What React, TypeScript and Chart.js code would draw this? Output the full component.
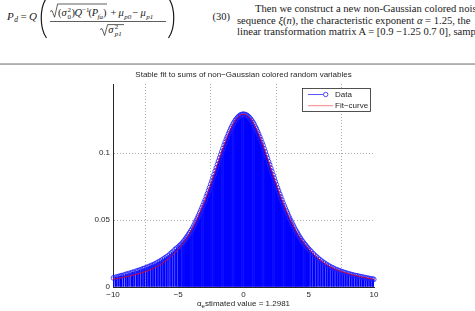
import React, { useEffect, useRef } from "react";
import { Chart, registerables } from "chart.js";

Chart.register(...registerables);

// Sample positions and their estimated densities (stem plot), left tail / core / right tail
const LEFT_TAIL_X = [-9.96, -9.81, -9.7, -9.55, -9.42, -9.33, -9.18, -9.02, -8.9, -8.77, -8.61, -8.5, -8.38, -8.22, -8.09, -7.97, -7.83, -7.7, -7.58, -7.43, -7.31, -7.18, -7.04, -6.93, -6.8, -6.66, -6.55, -6.41, -6.28, -6.16, -6.03, -5.9, -5.78, -5.63, -5.51, -5.38, -5.24, -5.12];
const LEFT_TAIL_Y = [0.0068, 0.0072, 0.0074, 0.0079, 0.0082, 0.0085, 0.0088, 0.0094, 0.0096, 0.0101, 0.0104, 0.0109, 0.0111, 0.0118, 0.0121, 0.0126, 0.013, 0.0136, 0.0139, 0.0145, 0.0149, 0.0155, 0.0161, 0.0165, 0.0171, 0.0178, 0.0185, 0.0192, 0.0199, 0.0207, 0.0216, 0.0224, 0.0232, 0.0245, 0.0255, 0.0266, 0.028, 0.029];

const CORE_X = [
  -4.99, -4.9, -4.82, -4.71, -4.63, -4.55, -4.46, -4.37, -4.29, -4.2, -4.12, -4.03, -3.95, -3.86, -3.78, -3.69, -3.61, -3.52, -3.44, -3.35,
  -3.27, -3.18, -3.1, -3.01, -2.93, -2.84, -2.76, -2.67, -2.59, -2.5, -2.42, -2.33, -2.25, -2.16, -2.08, -1.99, -1.91, -1.82, -1.74, -1.65,
  -1.57, -1.48, -1.4, -1.31, -1.23, -1.14, -1.06, -0.97, -0.89, -0.8, -0.72, -0.63, -0.55, -0.46, -0.38, -0.29, -0.21, -0.12, -0.04,
  0.05, 0.13, 0.22, 0.3, 0.39, 0.47, 0.56, 0.64, 0.73, 0.81, 0.9, 0.98, 1.07, 1.15, 1.24, 1.32, 1.41, 1.49, 1.58, 1.66,
  1.75, 1.83, 1.92, 2.0, 2.09, 2.17, 2.26, 2.34, 2.43, 2.51, 2.6, 2.68, 2.77, 2.85, 2.94, 3.02, 3.11, 3.19, 3.28, 3.36,
  3.45, 3.53, 3.62, 3.7, 3.79, 3.87, 3.96, 4.04, 4.13, 4.21, 4.3, 4.38, 4.47, 4.55, 4.64, 4.72, 4.81, 4.89, 4.98,
];
const CORE_Y = [
  0.0298, 0.0307, 0.0315, 0.0325, 0.0334, 0.0344, 0.0356, 0.0368, 0.0379, 0.0392, 0.0404, 0.0418, 0.043, 0.0446, 0.0462, 0.048, 0.0497, 0.0515, 0.0532, 0.0552,
  0.057, 0.059, 0.0609, 0.0631, 0.065, 0.0675, 0.0696, 0.072, 0.0742, 0.0767, 0.079, 0.0816, 0.0839, 0.0865, 0.0889, 0.0915, 0.0939, 0.0964, 0.0987, 0.1012,
  0.1034, 0.1059, 0.108, 0.1103, 0.1122, 0.1143, 0.1162, 0.1181, 0.1197, 0.1214, 0.1228, 0.1242, 0.1253, 0.1263, 0.1271, 0.1279, 0.1284, 0.1287, 0.1289,
  0.1289, 0.1286, 0.1283, 0.1278, 0.127, 0.1262, 0.1252, 0.124, 0.1227, 0.1213, 0.1195, 0.118, 0.116, 0.1141, 0.112, 0.11, 0.1077, 0.1057, 0.1032, 0.1009,
  0.0984, 0.0961, 0.0935, 0.0912, 0.0886, 0.0862, 0.0836, 0.0813, 0.0787, 0.0764, 0.0739, 0.0717, 0.0693, 0.0672, 0.0649, 0.0628, 0.0607, 0.0588, 0.0568, 0.055,
  0.053, 0.0513, 0.0495, 0.0478, 0.0461, 0.0446, 0.0428, 0.0415, 0.0401, 0.0386, 0.0372, 0.036, 0.0346, 0.0336, 0.0324, 0.0315, 0.0304, 0.0295, 0.0284,
];

const RIGHT_TAIL_X = [5.09, 5.21, 5.34, 5.46, 5.59, 5.71, 5.85, 5.97, 6.1, 6.23, 6.37, 6.49, 6.62, 6.76, 6.88, 7.01, 7.15, 7.27, 7.4, 7.54, 7.66, 7.79, 7.93, 8.05, 8.19, 8.32, 8.44, 8.58, 8.7, 8.83, 8.97, 9.1, 9.22, 9.36, 9.49, 9.62, 9.75, 9.88, 9.98];
const RIGHT_TAIL_Y = [0.0274, 0.0261, 0.0248, 0.0236, 0.0225, 0.0215, 0.0204, 0.0194, 0.0185, 0.0177, 0.0168, 0.016, 0.0153, 0.0146, 0.014, 0.0134, 0.0128, 0.0124, 0.0119, 0.0114, 0.011, 0.0106, 0.0102, 0.0098, 0.0095, 0.0091, 0.0088, 0.0085, 0.0083, 0.008, 0.0077, 0.0074, 0.0072, 0.0069, 0.0066, 0.0064, 0.0061, 0.0059, 0.0057];

// Fitted stable density
const FIT_X = [-10, -9.5, -9, -8.5, -8, -7.5, -7, -6.5, -6, -5.5, -5, -4.75, -4.5, -4.25, -4, -3.75, -3.5, -3.25, -3, -2.75, -2.5, -2.25, -2, -1.75, -1.5, -1.25, -1, -0.75, -0.5, -0.25, 0, 0.25, 0.5, 0.75, 1, 1.25, 1.5, 1.75, 2, 2.25, 2.5, 2.75, 3, 3.25, 3.5, 3.75, 4, 4.25, 4.5, 4.75, 5, 5.5, 6, 6.5, 7, 7.5, 8, 8.5, 9, 9.5, 10];
const FIT_Y = [0.0057, 0.0066, 0.0076, 0.0087, 0.01, 0.0115, 0.0134, 0.0159, 0.0192, 0.0232, 0.0282, 0.0311, 0.0342, 0.038, 0.0421, 0.0468, 0.0519, 0.0574, 0.0633, 0.0698, 0.0767, 0.0839, 0.0912, 0.0984, 0.1054, 0.1118, 0.1176, 0.1224, 0.126, 0.1282, 0.1289, 0.1282, 0.126, 0.1224, 0.1176, 0.1118, 0.1054, 0.0984, 0.0912, 0.0839, 0.0767, 0.0698, 0.0633, 0.0574, 0.0519, 0.0468, 0.0421, 0.038, 0.0342, 0.0311, 0.0282, 0.0232, 0.0192, 0.0159, 0.0134, 0.0115, 0.01, 0.0087, 0.0076, 0.0066, 0.0057];

const X_TICKS = [-10, -5, 0, 5, 10];
const X_TICK_LABELS = ["\u221210", "\u22125", "0", "5", "10"];
const Y_TICKS = [0, 0.05, 0.1];
const Y_TICK_LABELS = ["0", "0.05", "0.1"];

const TITLE = "Stable fit to sums of non\u2212Gaussian colored random variables";
const ALPHA_ESTIMATE = "1.2981";
const LEGEND_LABELS = ["Data", "Fit\u2212curve"];

const INK = "#262626";
const SANS = "'Liberation Sans', Arial, Helvetica, sans-serif";
const STEM_BLUE = "rgb(0,0,255)";
const MARKER_BLUE = "rgb(30,30,255)";
const FIT_RED = "rgb(255,0,0)";

const STEM_X = [...LEFT_TAIL_X, ...CORE_X, ...RIGHT_TAIL_X];
const STEM_Y = [...LEFT_TAIL_Y, ...CORE_Y, ...RIGHT_TAIL_Y];

// Title, x-axis caption with subscript, and the boxed legend
const annotations = {
  id: "annotations",
  afterDraw(chart: any) {
    const { ctx, chartArea: a } = chart;
    const cx = (a.left + a.right) / 2;
    ctx.save();
    ctx.fillStyle = INK;
    ctx.font = `8px ${SANS}`;
    ctx.textAlign = "center";
    ctx.textBaseline = "middle";
    ctx.fillText(TITLE, cx, a.top - 9);

    // α with subscript "e", then the rest of the caption
    const head = "\u03b1";
    const sub = "e";
    const rest = "stimated value = " + ALPHA_ESTIMATE;
    ctx.font = `8px ${SANS}`;
    const w1 = ctx.measureText(head).width;
    const w3 = ctx.measureText(rest).width;
    ctx.font = `6px ${SANS}`;
    const w2 = ctx.measureText(sub).width;
    let x = cx - (w1 + w2 + w3) / 2;
    const base = a.bottom + 19;
    ctx.textAlign = "left";
    ctx.textBaseline = "alphabetic";
    ctx.font = `8px ${SANS}`;
    ctx.fillText(head, x, base);
    x += w1;
    ctx.font = `6px ${SANS}`;
    ctx.fillText(sub, x, base + 2);
    x += w2;
    ctx.font = `8px ${SANS}`;
    ctx.fillText(rest, x, base);

    // legend box
    const bx = a.right - 71.5;
    const by = a.top + 4.5;
    const bw = 68;
    const bh = 23;
    ctx.fillStyle = "#fff";
    ctx.fillRect(bx, by, bw, bh);
    ctx.strokeStyle = INK;
    ctx.lineWidth = 0.8;
    ctx.strokeRect(bx, by, bw, bh);

    const r1 = by + 6;
    const r2 = by + 17.2;
    ctx.strokeStyle = "rgba(60,60,255,0.85)";
    ctx.lineWidth = 1;
    ctx.beginPath();
    ctx.moveTo(bx + 5.5, r1);
    ctx.lineTo(bx + 21, r1);
    ctx.stroke();
    ctx.strokeStyle = MARKER_BLUE;
    ctx.lineWidth = 0.8;
    ctx.beginPath();
    ctx.arc(bx + 23.2, r1, 2.2, 0, Math.PI * 2);
    ctx.stroke();

    ctx.strokeStyle = "rgba(255,90,90,0.75)";
    ctx.lineWidth = 1;
    ctx.beginPath();
    ctx.moveTo(bx + 5.5, r2);
    ctx.lineTo(bx + 30.5, r2);
    ctx.stroke();

    ctx.fillStyle = INK;
    ctx.font = `8px ${SANS}`;
    ctx.textBaseline = "middle";
    ctx.fillText(LEGEND_LABELS[0], bx + 32.5, r1 + 0.5);
    ctx.fillText(LEGEND_LABELS[1], bx + 32.5, r2 + 0.5);
    ctx.restore();
  },
};

const gridStyle = { color: "rgba(0,0,0,0.32)", lineWidth: 1, drawTicks: false };
const borderStyle = { display: true, color: INK, width: 1, dash: [1, 2] };
const tickFont = { family: SANS, size: 8 };

export default function App() {
  const canvasRef = useRef<HTMLCanvasElement>(null);

  useEffect(() => {
    const canvas = canvasRef.current;
    if (!canvas) return;
    const chart = new Chart(canvas, {
      type: "scatter",
      data: {
        datasets: [
          {
            type: "line",
            label: LEGEND_LABELS[1],
            data: FIT_X.map((x, i) => ({ x, y: FIT_Y[i] })),
            borderColor: FIT_RED,
            borderWidth: 0.75,
            pointRadius: 0,
            cubicInterpolationMode: "monotone",
            fill: false,
            order: 1,
          } as any,
          {
            type: "scatter",
            label: LEGEND_LABELS[0],
            data: STEM_X.map((x, i) => ({ x, y: STEM_Y[i] })),
            pointStyle: "circle",
            pointRadius: 2.4,
            pointBorderWidth: 0.8,
            pointBorderColor: MARKER_BLUE,
            pointBackgroundColor: "rgba(0,0,0,0)",
            showLine: false,
            clip: false,
            order: 2,
          } as any,
          {
            type: "bar",
            label: "stems",
            data: STEM_X.map((x, i) => ({ x, y: STEM_Y[i] })),
            backgroundColor: STEM_BLUE,
            borderWidth: 0,
            barThickness: 1,
            grouped: false,
            order: 3,
          } as any,
        ],
      },
      options: {
        responsive: false,
        animation: false,
        events: [],
        layout: { padding: { top: 20, right: 101, left: 0, bottom: 0 } },
        plugins: {
          legend: { display: false },
          title: { display: false },
          tooltip: { enabled: false },
        },
        scales: {
          x: {
            type: "linear",
            min: -10,
            max: 10,
            offset: false,
            afterBuildTicks: (s: any) => {
              s.ticks = X_TICKS.map((value) => ({ value }));
            },
            afterFit: (s: any) => {
              s.height = 24;
            },
            ticks: {
              callback: (_v: any, i: number) => X_TICK_LABELS[i],
              font: tickFont,
              color: INK,
              padding: 3,
              maxRotation: 0,
              autoSkip: false,
            },
            grid: gridStyle,
            border: borderStyle,
          },
          y: {
            type: "linear",
            min: 0,
            max: 0.1515,
            afterBuildTicks: (s: any) => {
              s.ticks = Y_TICKS.map((value) => ({ value }));
            },
            afterFit: (s: any) => {
              s.width = 113;
            },
            ticks: {
              callback: (_v: any, i: number) => Y_TICK_LABELS[i],
              font: tickFont,
              color: INK,
              padding: 3,
            },
            grid: gridStyle,
            border: borderStyle,
          },
        },
      } as any,
      plugins: [annotations],
    });
    return () => chart.destroy();
  }, []);

  const serif = "'Liberation Serif', 'DejaVu Serif', serif";
  const ink = "#1a1a1a";
  const body = 10.6;

  return (
    <div
      style={{
        position: "fixed",
        left: 0,
        top: 0,
        width: 475,
        height: 311,
        overflow: "hidden",
        background: "#fff",
      }}
    >
      <svg
        width={475}
        height={66}
        style={{ position: "absolute", left: 0, top: 0 }}
        fontFamily={serif}
        fill={ink}
      >
        {/* equation (30) */}
        <text x={7} y={19.5} fontSize={11} fontStyle="italic">P</text>
        <text x={14.2} y={21.8} fontSize={7.5} fontStyle="italic">d</text>
        <text x={20.5} y={19.5} fontSize={11}>=</text>
        <text x={29} y={19.5} fontSize={11} fontStyle="italic">Q</text>
        <path d="M46.5,-2 C39.5,8 39.5,28 46.5,38" stroke={ink} strokeWidth={1.2} fill="none" />
        <path d="M168.5,-2 C175.5,8 175.5,28 168.5,38" stroke={ink} strokeWidth={1.2} fill="none" />

        <path d="M50,11.5 L52,10.6 L54.6,17.2 L57.6,4 L107,4" stroke={ink} strokeWidth={0.7} fill="none" />
        <text x={58} y={16} fontSize={10.5}>(</text>
        <text x={61.5} y={16} fontSize={10.5} fontStyle="italic">σ</text>
        <text x={67.5} y={11.5} fontSize={7}>2</text>
        <text x={67.5} y={18.8} fontSize={7}>0</text>
        <text x={71.5} y={16} fontSize={10.5}>)</text>
        <text x={74.5} y={16} fontSize={10.5} fontStyle="italic">Q</text>
        <text x={82} y={11.5} fontSize={7}>−1</text>
        <text x={88.5} y={16} fontSize={10.5}>(</text>
        <text x={91.8} y={16} fontSize={10.5} fontStyle="italic">P</text>
        <text x={97.6} y={18.8} fontSize={7} fontStyle="italic">fa</text>
        <text x={103} y={16} fontSize={10.5}>)</text>
        <text x={110.5} y={16} fontSize={10.5}>+</text>
        <text x={118.5} y={16} fontSize={10.5} fontStyle="italic">μ</text>
        <text x={124.3} y={18.8} fontSize={7} fontStyle="italic">p0</text>
        <text x={132.5} y={16} fontSize={10.5}>−</text>
        <text x={140.5} y={16} fontSize={10.5} fontStyle="italic">μ</text>
        <text x={146.3} y={18.8} fontSize={7} fontStyle="italic">p1</text>
        <path d="M50,21.5 H166" stroke={ink} strokeWidth={0.7} />

        <path d="M100,29.5 L102,28.6 L104.6,35.5 L107.6,24.6 L124,24.6" stroke={ink} strokeWidth={0.7} fill="none" />
        <text x={108.3} y={33} fontSize={10.5} fontStyle="italic">σ</text>
        <text x={114.8} y={28.8} fontSize={7}>2</text>
        <text x={114.8} y={36.2} fontSize={7} fontStyle="italic">p1</text>

        <text x={212.5} y={19.5} fontSize={10.5}>(30)</text>

        {/* running text, right column */}
        <text x={255} y={12} fontSize={body}>Then we construct a new non-Gaussian colored noise</text>
        <text x={237} y={23.6} fontSize={body}>
          {"sequence "}
          <tspan fontStyle="italic">ξ</tspan>
          {"("}
          <tspan fontStyle="italic">n</tspan>
          {"), the characteristic exponent "}
          <tspan fontStyle="italic">α</tspan>
          {" = 1.25, the"}
        </text>
        <text x={237} y={35.2} fontSize={body}>linear transformation matrix A = [0.9 −1.25 0.7 0], sample</text>

        <rect x={0} y={63.4} width={475} height={1.3} fill="#8c8c8c" />
      </svg>
      <canvas
        ref={canvasRef}
        width={475}
        height={247}
        style={{ position: "absolute", left: 0, top: 64, display: "block" }}
      />
    </div>
  );
}
